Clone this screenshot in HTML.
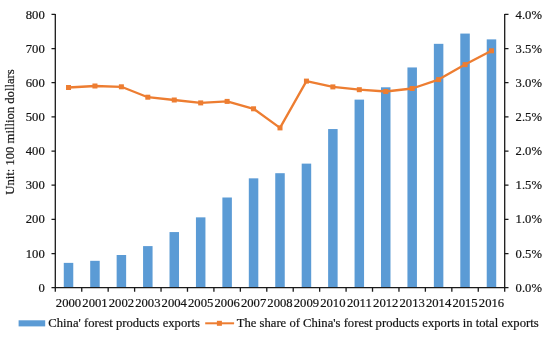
<!DOCTYPE html>
<html><head><meta charset="utf-8"><title>Chart</title><style>html,body{margin:0;padding:0;background:#fff}body{width:550px;height:337px;overflow:hidden;position:relative}</style></head><body>
<svg width="550" height="337" viewBox="0 0 550 337" style="display:block;position:absolute;left:0;top:0" font-family="'Liberation Serif', serif" font-size="12.65" fill="#141414">
<rect width="550" height="337" fill="#fff"/>
<rect x="63.77" y="262.87" width="9.5" height="24.83" fill="#5b9bd5"/>
<rect x="90.20" y="260.82" width="9.5" height="26.88" fill="#5b9bd5"/>
<rect x="116.64" y="255.00" width="9.5" height="32.70" fill="#5b9bd5"/>
<rect x="143.07" y="246.10" width="9.5" height="41.60" fill="#5b9bd5"/>
<rect x="169.51" y="232.07" width="9.5" height="55.63" fill="#5b9bd5"/>
<rect x="195.94" y="217.35" width="9.5" height="70.35" fill="#5b9bd5"/>
<rect x="222.38" y="197.50" width="9.5" height="90.20" fill="#5b9bd5"/>
<rect x="248.81" y="178.34" width="9.5" height="109.36" fill="#5b9bd5"/>
<rect x="275.25" y="173.20" width="9.5" height="114.50" fill="#5b9bd5"/>
<rect x="301.69" y="163.62" width="9.5" height="124.08" fill="#5b9bd5"/>
<rect x="328.12" y="129.05" width="9.5" height="158.65" fill="#5b9bd5"/>
<rect x="354.56" y="99.62" width="9.5" height="188.08" fill="#5b9bd5"/>
<rect x="380.99" y="87.30" width="9.5" height="200.40" fill="#5b9bd5"/>
<rect x="407.43" y="67.45" width="9.5" height="220.25" fill="#5b9bd5"/>
<rect x="433.86" y="43.83" width="9.5" height="243.87" fill="#5b9bd5"/>
<rect x="460.30" y="33.57" width="9.5" height="254.13" fill="#5b9bd5"/>
<rect x="486.73" y="39.38" width="9.5" height="248.32" fill="#5b9bd5"/>
<g stroke="#1a1a1a" stroke-width="1.3" fill="none">
<path d="M55.3 13.9V287.7M504.7 13.9V287.7M54.8 287.7H505.2"/>
<path d="M51.5 287.70H55.3M504.7 287.70H508.5M51.5 253.54H55.3M504.7 253.54H508.5M51.5 219.38H55.3M504.7 219.38H508.5M51.5 185.21H55.3M504.7 185.21H508.5M51.5 151.05H55.3M504.7 151.05H508.5M51.5 116.89H55.3M504.7 116.89H508.5M51.5 82.72H55.3M504.7 82.72H508.5M51.5 48.56H55.3M504.7 48.56H508.5M51.5 14.40H55.3M504.7 14.40H508.5M55.30 287.7V291.7M81.74 287.7V291.7M108.17 287.7V291.7M134.61 287.7V291.7M161.04 287.7V291.7M187.48 287.7V291.7M213.91 287.7V291.7M240.35 287.7V291.7M266.78 287.7V291.7M293.22 287.7V291.7M319.65 287.7V291.7M346.09 287.7V291.7M372.52 287.7V291.7M398.96 287.7V291.7M425.39 287.7V291.7M451.83 287.7V291.7M478.26 287.7V291.7M504.70 287.7V291.7"/></g>
<polyline points="68.52,87.5 94.95,86.0 121.39,86.8 147.82,97.2 174.26,100.0 200.69,102.9 227.13,101.4 253.56,108.8 280.00,127.9 306.44,81.1 332.87,86.9 359.31,89.7 385.74,91.5 412.18,88.5 438.61,79.6 465.05,64.6 491.48,50.8" fill="none" stroke="#ed7d31" stroke-width="2.3" stroke-linejoin="round"/>
<rect x="66.02" y="85.00" width="5" height="5" fill="#ed7d31"/>
<rect x="92.45" y="83.50" width="5" height="5" fill="#ed7d31"/>
<rect x="118.89" y="84.30" width="5" height="5" fill="#ed7d31"/>
<rect x="145.32" y="94.70" width="5" height="5" fill="#ed7d31"/>
<rect x="171.76" y="97.50" width="5" height="5" fill="#ed7d31"/>
<rect x="198.19" y="100.40" width="5" height="5" fill="#ed7d31"/>
<rect x="224.63" y="98.90" width="5" height="5" fill="#ed7d31"/>
<rect x="251.06" y="106.30" width="5" height="5" fill="#ed7d31"/>
<rect x="277.50" y="125.40" width="5" height="5" fill="#ed7d31"/>
<rect x="303.94" y="78.60" width="5" height="5" fill="#ed7d31"/>
<rect x="330.37" y="84.40" width="5" height="5" fill="#ed7d31"/>
<rect x="356.81" y="87.20" width="5" height="5" fill="#ed7d31"/>
<rect x="383.24" y="89.00" width="5" height="5" fill="#ed7d31"/>
<rect x="409.68" y="86.00" width="5" height="5" fill="#ed7d31"/>
<rect x="436.11" y="77.10" width="5" height="5" fill="#ed7d31"/>
<rect x="462.55" y="62.10" width="5" height="5" fill="#ed7d31"/>
<rect x="488.98" y="48.30" width="5" height="5" fill="#ed7d31"/>
<text transform="translate(44.7,291.8) scale(1,1.05)" text-anchor="end" stroke="#141414" stroke-width="0.2">0</text>
<text transform="translate(515.6,291.8) scale(1,1.05)" stroke="#141414" stroke-width="0.2">0.0%</text>
<text transform="translate(44.7,257.64) scale(1,1.05)" text-anchor="end" stroke="#141414" stroke-width="0.2">100</text>
<text transform="translate(515.6,257.64) scale(1,1.05)" stroke="#141414" stroke-width="0.2">0.5%</text>
<text transform="translate(44.7,223.47) scale(1,1.05)" text-anchor="end" stroke="#141414" stroke-width="0.2">200</text>
<text transform="translate(515.6,223.47) scale(1,1.05)" stroke="#141414" stroke-width="0.2">1.0%</text>
<text transform="translate(44.7,189.31) scale(1,1.05)" text-anchor="end" stroke="#141414" stroke-width="0.2">300</text>
<text transform="translate(515.6,189.31) scale(1,1.05)" stroke="#141414" stroke-width="0.2">1.5%</text>
<text transform="translate(44.7,155.15) scale(1,1.05)" text-anchor="end" stroke="#141414" stroke-width="0.2">400</text>
<text transform="translate(515.6,155.15) scale(1,1.05)" stroke="#141414" stroke-width="0.2">2.0%</text>
<text transform="translate(44.7,120.99) scale(1,1.05)" text-anchor="end" stroke="#141414" stroke-width="0.2">500</text>
<text transform="translate(515.6,120.99) scale(1,1.05)" stroke="#141414" stroke-width="0.2">2.5%</text>
<text transform="translate(44.7,86.82) scale(1,1.05)" text-anchor="end" stroke="#141414" stroke-width="0.2">600</text>
<text transform="translate(515.6,86.82) scale(1,1.05)" stroke="#141414" stroke-width="0.2">3.0%</text>
<text transform="translate(44.7,52.66) scale(1,1.05)" text-anchor="end" stroke="#141414" stroke-width="0.2">700</text>
<text transform="translate(515.6,52.66) scale(1,1.05)" stroke="#141414" stroke-width="0.2">3.5%</text>
<text transform="translate(44.7,18.5) scale(1,1.05)" text-anchor="end" stroke="#141414" stroke-width="0.2">800</text>
<text transform="translate(515.6,18.5) scale(1,1.05)" stroke="#141414" stroke-width="0.2">4.0%</text>
<text transform="translate(68.52,307.0) scale(1,1.05)" text-anchor="middle" stroke="#141414" stroke-width="0.2">2000</text>
<text transform="translate(94.95,307.0) scale(1,1.05)" text-anchor="middle" stroke="#141414" stroke-width="0.2">2001</text>
<text transform="translate(121.39,307.0) scale(1,1.05)" text-anchor="middle" stroke="#141414" stroke-width="0.2">2002</text>
<text transform="translate(147.82,307.0) scale(1,1.05)" text-anchor="middle" stroke="#141414" stroke-width="0.2">2003</text>
<text transform="translate(174.26,307.0) scale(1,1.05)" text-anchor="middle" stroke="#141414" stroke-width="0.2">2004</text>
<text transform="translate(200.69,307.0) scale(1,1.05)" text-anchor="middle" stroke="#141414" stroke-width="0.2">2005</text>
<text transform="translate(227.13,307.0) scale(1,1.05)" text-anchor="middle" stroke="#141414" stroke-width="0.2">2006</text>
<text transform="translate(253.56,307.0) scale(1,1.05)" text-anchor="middle" stroke="#141414" stroke-width="0.2">2007</text>
<text transform="translate(280.0,307.0) scale(1,1.05)" text-anchor="middle" stroke="#141414" stroke-width="0.2">2008</text>
<text transform="translate(306.44,307.0) scale(1,1.05)" text-anchor="middle" stroke="#141414" stroke-width="0.2">2009</text>
<text transform="translate(332.87,307.0) scale(1,1.05)" text-anchor="middle" stroke="#141414" stroke-width="0.2">2010</text>
<text transform="translate(359.31,307.0) scale(1,1.05)" text-anchor="middle" stroke="#141414" stroke-width="0.2">2011</text>
<text transform="translate(385.74,307.0) scale(1,1.05)" text-anchor="middle" stroke="#141414" stroke-width="0.2">2012</text>
<text transform="translate(412.18,307.0) scale(1,1.05)" text-anchor="middle" stroke="#141414" stroke-width="0.2">2013</text>
<text transform="translate(438.61,307.0) scale(1,1.05)" text-anchor="middle" stroke="#141414" stroke-width="0.2">2014</text>
<text transform="translate(465.05,307.0) scale(1,1.05)" text-anchor="middle" stroke="#141414" stroke-width="0.2">2015</text>
<text transform="translate(491.48,307.0) scale(1,1.05)" text-anchor="middle" stroke="#141414" stroke-width="0.2">2016</text>
<text transform="translate(13.9,132.0) rotate(-90) scale(1,1.05)" text-anchor="middle" stroke="#141414" stroke-width="0.2">Unit: 100 million dollars</text>
<rect x="18.6" y="320.3" width="26.6" height="6.1" fill="#5b9bd5"/>
<text transform="translate(48.3,327.3) scale(1,1.05)" stroke="#141414" stroke-width="0.2">China' forest products exports</text>
<path d="M205.2 323.3H234.1" stroke="#ed7d31" stroke-width="2"/>
<rect x="216.9" y="320.8" width="5" height="5" fill="#ed7d31"/>
<text transform="translate(236.7,327.3) scale(1,1.05)" stroke="#141414" stroke-width="0.2">The share of China's forest products exports in total exports</text>
</svg>
</body></html>
